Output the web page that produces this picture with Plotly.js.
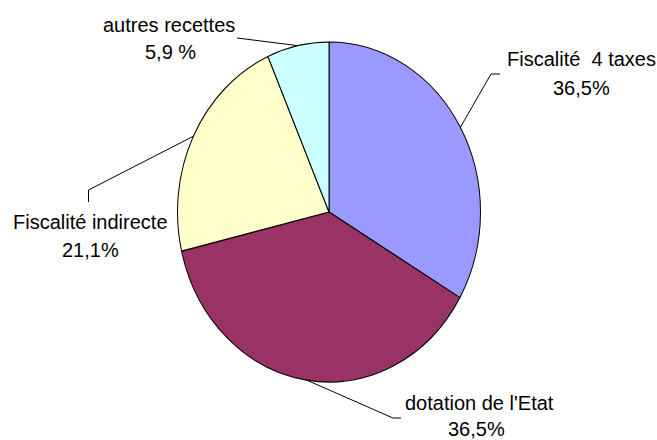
<!DOCTYPE html>
<html>
<head>
<meta charset="utf-8">
<script src="https://cdn.plot.ly/plotly-3.0.1.min.js"></script>
<style>
  html, body { margin: 0; padding: 0; background: #ffffff; }
  #chart { width: 657px; height: 440px; }
</style>
</head>
<body>
<div id="chart"></div>
<script>
// ---- data ----
var categories = ['Fiscalité\u00a0 4 taxes', "dotation de l'Etat", 'Fiscalité indirecte', 'autres recettes'];
var sliceValues = [33.4, 37.9, 22.1, 6.6];
var percentLabels = ['36,5%', '36,5%', '21,1%', '5,9 %'];
var sliceColors = ['#9999FF', '#993366', '#FFFFCC', '#CCFFFF'];

// ---- layout geometry ----
var W = 657, H = 440;
var CX = 329, CY = 212;      // pie centre (px)
var RX = 151.5, RY = 170;    // drawn radii (px); pie is slightly taller than wide
var FONT = 'Liberation Sans, Arial, sans-serif';
var FS = 20;

// label placement (px): name line, percent line, leader elbow points
var labelPos = [
  { name: [581, 59],  pct: [581, 88],    elbow: [[491, 74], [500, 74]] },
  { name: [479, 403], pct: [476, 428.5], elbow: [[393, 418], [401, 418]] },
  { name: [90, 221.5], pct: [90, 250],   elbow: [[88.5, 190], [88.5, 202]] },
  { name: [169, 25],  pct: [170, 51.5],  elbow: [[237, 38]] }
];

function px(x) { return x / W; }
function py(y) { return 1 - y / H; }

// edge point at each slice's mid-angle (clockwise from 12 o'clock)
var total = sliceValues.reduce(function (a, b) { return a + b; }, 0);
var cum = 0;
var shapes = [];
var annotations = [];
sliceValues.forEach(function (v, i) {
  var mid = (cum + v / 2) / total * 2 * Math.PI;
  cum += v;
  var ex = CX + RX * Math.sin(mid);
  var ey = CY - RY * Math.cos(mid);
  var pts = [[ex, ey]].concat(labelPos[i].elbow);
  var d = pts.map(function (p, k) {
    return (k === 0 ? 'M ' : ' L ') + px(p[0]) + ',' + py(p[1]);
  }).join('');
  shapes.push({
    type: 'path', xref: 'paper', yref: 'paper', path: d,
    line: { color: '#000000', width: 1 }
  });
  annotations.push({
    xref: 'paper', yref: 'paper', x: px(labelPos[i].name[0]), y: py(labelPos[i].name[1]),
    xanchor: 'center', yanchor: 'middle', showarrow: false,
    text: categories[i], font: { family: FONT, size: FS, color: '#000000' }
  });
  annotations.push({
    xref: 'paper', yref: 'paper', x: px(labelPos[i].pct[0]), y: py(labelPos[i].pct[1]),
    xanchor: 'center', yanchor: 'middle', showarrow: false,
    text: percentLabels[i], font: { family: FONT, size: FS, color: '#000000' }
  });
});

var trace = {
  type: 'pie',
  labels: categories,
  values: sliceValues,
  sort: false,
  direction: 'clockwise',
  rotation: 0,
  textinfo: 'none',
  hoverinfo: 'none',
  showlegend: false,
  marker: { colors: sliceColors, line: { color: '#000000', width: 1 } },
  domain: {
    x: [px(CX - RX), px(CX + RX)],
    y: [1 - (CY + RX) / H, 1 - (CY - RX) / H]
  }
};

var layout = {
  width: W, height: H,
  margin: { l: 0, r: 0, t: 0, b: 0 },
  paper_bgcolor: '#ffffff',
  showlegend: false,
  font: { family: FONT, size: FS, color: '#000000' },
  shapes: shapes,
  annotations: annotations
};

Plotly.newPlot('chart', [trace], layout, { staticPlot: true, displayModeBar: false }).then(function (gd) {
  // stretch the pie vertically so it is an ellipse like the reference
  var s = RY / RX;
  var layer = gd.querySelector('.pielayer');
  if (layer) {
    layer.setAttribute('transform', 'translate(0,' + CY + ') scale(1,' + s + ') translate(0,' + (-CY) + ')');
  }
});
</script>
</body>
</html>
